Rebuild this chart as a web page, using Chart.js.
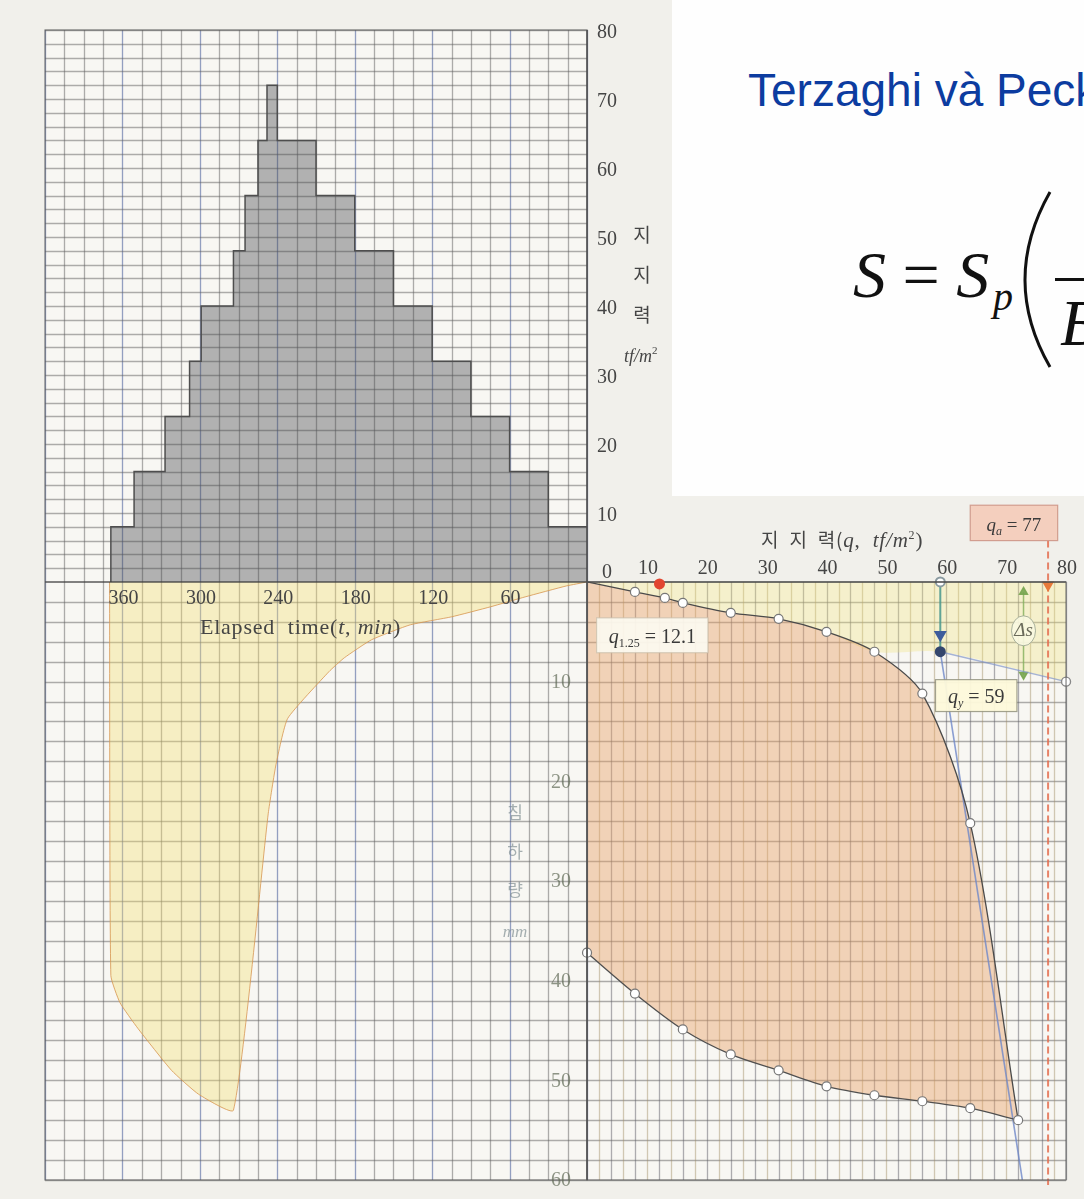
<!DOCTYPE html>
<html>
<head>
<meta charset="utf-8">
<script src="https://cdn.jsdelivr.net/npm/chart.js@4.4.0/dist/chart.umd.min.js"></script>
<style>
  html, body { margin: 0; padding: 0; background: #f1f0eb; overflow: hidden; }
  #wrap { position: relative; width: 1084px; height: 1199px; overflow: hidden; }
  #plate { position: absolute; left: 0; top: 0; }
  #note { position: absolute; left: 672px; top: 0; width: 412px; height: 496px; background: #fefefe; overflow: hidden; }
  #note .title { position: absolute; left: 76px; top: 67px; font: 46px "Liberation Sans", Arial, sans-serif; line-height: 1; color: #0c3ca0; white-space: nowrap; }
  #note .eq { position: absolute; font-family: "Liberation Serif", "Times New Roman", serif; line-height: 1; color: #111; white-space: pre; }
  #note i { font-style: italic; }
</style>
</head>
<body>
<div id="wrap">
  <canvas id="plate" width="1084" height="1199"></canvas>
  <div id="note">
    <div class="title">Terzaghi và Peck</div>
    <div class="eq" style="left:181px;top:242px;font-size:66px"><i>S</i> = <i>S</i></div>
    <div class="eq" style="left:321px;top:277px;font-size:40px"><i>p</i></div>
    <svg style="position:absolute;left:320px;top:185px" width="70" height="190">
      <path d="M58 7 Q8 95 58 182" fill="none" stroke="#111" stroke-width="3"/>
    </svg>
    <div style="position:absolute;left:383px;top:278px;width:40px;height:3px;background:#111"></div>
    <div class="eq" style="left:388px;top:290px;font-size:66px"><i>B</i></div>
  </div>
</div>
<script>
// --- 재하 단계 (elapsed time in min, load in tf/m2 held from that time) ---
const stepTimes = [0, 30, 60, 90, 120, 150, 180, 210, 240, 248, 255, 265, 274, 299, 308, 327, 351, 369];
const stepLoads = [8, 16, 24, 32, 40, 48, 56, 64, 72, 64, 56, 48, 40, 32, 24, 16, 8];

// --- 시간-침하 ---
const elapsedMin = [0, 16, 48, 75, 105, 137, 167, 188, 200, 232, 241, 247, 274, 301, 322, 348, 362, 369, 370];
const elapsedSettle = [0, 0.4, 1.5, 2.5, 3.5, 4.3, 5.8, 7.6, 9.0, 13.7, 18.3, 23.2, 53.0, 51.4, 49.0, 44.8, 42.2, 39.5, 0];

// --- 하중-침하 (loading / unloading) ---
const loadUp = [0, 8, 13, 16, 24, 32, 40, 48, 56, 64, 72];
const settleUp = [0, 1.0, 1.6, 2.1, 3.1, 3.7, 5.0, 7.0, 11.2, 24.2, 54.0];
const loadDown = [72, 64, 56, 48, 40, 32, 24, 16, 8, 0];
const settleDown = [54.0, 52.8, 52.1, 51.5, 50.6, 49.0, 47.4, 44.9, 41.3, 37.2];

// yield construction
const qy = 59, qySettle = 7.0;
const flatTangentEnd = [80, 10];
const steepTangentEnd = [72.7, 60];
const q125 = 12.1;
const qa = 77;
const deltaSLoad = 72.9, deltaS = [1.0, 9.3];

// tick labels
const loadTicks = [80, 70, 60, 50, 40, 30, 20, 10, 0];
const timeTicks = [360, 300, 240, 180, 120, 60];
const qTicks = [10, 20, 30, 40, 50, 60, 70, 80];
const settleTicks = [10, 20, 30, 40, 50, 60];

const SERIF = '"Liberation Serif", "DejaVu Serif", serif';
const KR = '"Noto Sans CJK KR", sans-serif';

const pts = (xs, ys) => xs.map((x, i) => ({ x: x, y: ys[i] }));

const histData = pts(stepTimes.slice(0, stepLoads.length), stepLoads)
  .concat([{ x: stepTimes[stepTimes.length - 1], y: 0 }]);

// upper band: s=0 down to the initial branch and its tangent
const bandData = pts(loadUp.slice(0, 8), settleUp.slice(0, 8))
  .concat([{ x: qy, y: qySettle }, { x: flatTangentEnd[0], y: flatTangentEnd[1] }]);

// loop outline; the turning point is repeated so the corner stays sharp
const loopData = pts(loadUp, settleUp).concat(pts(loadDown, settleDown));

function drawRuns(ctx, runs, x, y, align) {
  let total = 0;
  runs.forEach(r => { ctx.font = r.f; r.w = ctx.measureText(r.t).width; total += r.w; });
  let cx = align === 'center' ? x - total / 2 : x;
  runs.forEach(r => { ctx.font = r.f; ctx.fillText(r.t, cx, y + (r.dy || 0)); cx += r.w; });
}

function hline(ctx, x1, x2, y) { ctx.beginPath(); ctx.moveTo(x1, y); ctx.lineTo(x2, y); ctx.stroke(); }
function vline(ctx, x, y1, y2) { ctx.beginPath(); ctx.moveTo(x, y1); ctx.lineTo(x, y2); ctx.stroke(); }

// graph paper behind the data
const paperGrid = {
  id: 'paperGrid',
  beforeDatasetsDraw(chart) {
    const { ctx, scales: { xt, xq, yq, ys } } = chart;
    const L = xt.getPixelForValue(420), X0 = xt.getPixelForValue(0), R = xq.getPixelForValue(80);
    const T = yq.getPixelForValue(80), Y0 = ys.getPixelForValue(0), B = ys.getPixelForValue(60);
    ctx.save();
    ctx.fillStyle = '#f8f7f3';
    ctx.fillRect(L, T, X0 - L, B - T);
    ctx.fillRect(X0, Y0, R - X0, B - Y0);
    ctx.lineWidth = 1.3;
    for (let t = 0; t <= 420; t += 15) {
      ctx.strokeStyle = t % 60 === 0 ? 'rgba(85,105,160,0.62)' : 'rgba(95,95,95,0.5)';
      vline(ctx, Math.round(xt.getPixelForValue(t)) + 0.5, T, B);
    }
    ctx.strokeStyle = 'rgba(95,95,95,0.5)';
    for (let v = 2; v <= 80; v += 2) hline(ctx, L, X0, Math.round(yq.getPixelForValue(v)) + 0.5);
    for (let s = 2; s <= 60; s += 2) hline(ctx, L, R, Math.round(ys.getPixelForValue(s)) + 0.5);
    for (let q = 2; q <= 80; q += 2) {
      ctx.strokeStyle = q % 4 === 0 ? 'rgba(95,95,105,0.5)' : 'rgba(160,140,100,0.45)';
      vline(ctx, Math.round(xq.getPixelForValue(q)) + 0.5, Y0, B);
    }
    ctx.restore();
  },
  afterDatasetsDraw(chart) {
    const { ctx, scales: { xt, xq, yq, ys } } = chart;
    const L = xt.getPixelForValue(420), X0 = xt.getPixelForValue(0), R = xq.getPixelForValue(80);
    const T = yq.getPixelForValue(80), Y0 = ys.getPixelForValue(0), B = ys.getPixelForValue(60);
    ctx.save();
    // main axes
    ctx.strokeStyle = 'rgba(60,60,60,0.85)';
    ctx.lineWidth = 1.6;
    hline(ctx, L, R, Y0);
    vline(ctx, X0, T, B);
    ctx.strokeStyle = 'rgba(90,90,90,0.7)';
    ctx.lineWidth = 1.3;
    ctx.strokeRect(L, T, X0 - L, B - T);
    ctx.strokeRect(X0, Y0, R - X0, B - Y0);

    ctx.fillStyle = '#454545';
    ctx.textBaseline = 'middle';
    ctx.textAlign = 'center';
    ctx.font = '20px ' + SERIF;
    loadTicks.forEach(v => {
      const y = v === 0 ? Y0 - 9 : yq.getPixelForValue(v) + 3;
      ctx.fillText(String(v), X0 + 20, y);
    });
    timeTicks.forEach(t => ctx.fillText(String(t), xt.getPixelForValue(t) + 1, Y0 + 17));
    qTicks.forEach(q => ctx.fillText(String(q), xq.getPixelForValue(q) + 1, Y0 - 13));

    // 지지력 (top)
    ctx.font = '19px ' + KR;
    ['지', '지', '력'].forEach((c, i) => ctx.fillText(c, X0 + 55, yq.getPixelForValue(50.3 - i * 5.8)));
    ctx.textAlign = 'left';
    drawRuns(ctx, [
      { t: 'tf/m', f: 'italic 18px ' + SERIF },
      { t: '2', f: '11px ' + SERIF, dy: -7 }
    ], X0 + 37, yq.getPixelForValue(32.5), 'left');

    ctx.textBaseline = 'alphabetic';
    ctx.letterSpacing = '0.8px';
    drawRuns(ctx, [
      { t: 'Elapsed  time(', f: '22px ' + SERIF },
      { t: 't', f: 'italic 22px ' + SERIF },
      { t: ', ', f: '22px ' + SERIF },
      { t: 'min', f: 'italic 22px ' + SERIF },
      { t: ')', f: '22px ' + SERIF }
    ], xt.getPixelForValue(222), ys.getPixelForValue(5.2), 'center');

    drawRuns(ctx, [
      { t: '지  지  력(', f: '19px ' + KR },
      { t: 'q', f: 'italic 21px ' + SERIF },
      { t: ',  ', f: '21px ' + SERIF },
      { t: 'tf/m', f: 'italic 21px ' + SERIF },
      { t: '2', f: '12px ' + SERIF, dy: -8 },
      { t: ')', f: '21px ' + SERIF }
    ], xq.getPixelForValue(42.6), ys.getPixelForValue(-3.5), 'center');
    ctx.letterSpacing = '0px';

    // settlement labels
    ctx.textBaseline = 'middle';
    ctx.textAlign = 'center';
    ctx.fillStyle = 'rgba(95,105,85,0.7)';
    ctx.font = '20px ' + SERIF;
    settleTicks.forEach(s => ctx.fillText(String(s), X0 - 26, ys.getPixelForValue(s) + 1));
    ctx.fillStyle = 'rgba(120,135,140,0.65)';
    ctx.font = '17px ' + KR;
    ['침', '하', '량'].forEach((c, i) => ctx.fillText(c, X0 - 72, ys.getPixelForValue(23.1 + i * 3.9)));
    ctx.font = 'italic 17px ' + SERIF;
    ctx.fillText('mm', X0 - 72, ys.getPixelForValue(35.2));

    // label boxes
    const box = (q1, s1, q2, s2, fill, stroke) => {
      const x1 = xq.getPixelForValue(q1), y1 = ys.getPixelForValue(s1);
      const x2 = xq.getPixelForValue(q2), y2 = ys.getPixelForValue(s2);
      ctx.fillStyle = fill;
      ctx.fillRect(x1, y1, x2 - x1, y2 - y1);
      ctx.strokeStyle = stroke;
      ctx.lineWidth = 1.2;
      ctx.strokeRect(x1, y1, x2 - x1, y2 - y1);
      return [x1, y1, x2, y2];
    };
    ctx.textBaseline = 'alphabetic';
    ctx.textAlign = 'left';
    let b = box(1.6, 3.6, 20.2, 7.1, 'rgba(252,250,240,0.92)', 'rgba(200,190,170,0.7)');
    ctx.fillStyle = '#3a3a3a';
    drawRuns(ctx, [
      { t: 'q', f: 'italic 20px ' + SERIF },
      { t: '1.25', f: '12px ' + SERIF, dy: 4 },
      { t: ' = ' + q125, f: '20px ' + SERIF }
    ], (b[0] + b[2]) / 2, b[3] - 10, 'center');

    b = box(58.2, 9.8, 71.8, 13.0, 'rgba(253,249,218,0.95)', 'rgba(140,140,120,0.8)');
    ctx.fillStyle = '#3a3a3a';
    drawRuns(ctx, [
      { t: 'q', f: 'italic 20px ' + SERIF },
      { t: 'y', f: 'italic 12px ' + SERIF, dy: 4 },
      { t: ' = ' + qy, f: '20px ' + SERIF }
    ], (b[0] + b[2]) / 2, b[3] - 9, 'center');

    b = box(64.0, -7.7, 78.6, -4.15, 'rgba(243,204,188,0.95)', 'rgba(205,150,135,0.9)');
    ctx.fillStyle = '#3a3a3a';
    drawRuns(ctx, [
      { t: 'q', f: 'italic 19px ' + SERIF },
      { t: 'a', f: 'italic 12px ' + SERIF, dy: 4 },
      { t: ' = ' + qa, f: '19px ' + SERIF }
    ], (b[0] + b[2]) / 2, b[3] - 10, 'center');

    // Δs label
    const dx = xq.getPixelForValue(deltaSLoad), dy = ys.getPixelForValue(4.9);
    ctx.fillStyle = 'rgba(250,248,225,0.9)';
    ctx.strokeStyle = 'rgba(150,160,140,0.8)';
    ctx.lineWidth = 1;
    ctx.beginPath();
    ctx.ellipse(dx, dy, 12, 15, 0, 0, Math.PI * 2);
    ctx.fill();
    ctx.stroke();
    ctx.fillStyle = '#6a6a5a';
    ctx.textAlign = 'center';
    ctx.textBaseline = 'middle';
    ctx.font = 'italic 19px ' + SERIF;
    ctx.fillText('Δs', dx, dy);

    // q1.25 marker
    ctx.fillStyle = '#e2452f';
    ctx.beginPath();
    ctx.arc(xq.getPixelForValue(q125), Y0 + 2, 5.5, 0, Math.PI * 2);
    ctx.fill();
    ctx.restore();
  }
};

new Chart(document.getElementById('plate'), {
  type: 'line',
  data: {
    datasets: [
      {
        data: histData, xAxisID: 'xt', yAxisID: 'yq', stepped: true, fill: 'origin',
        backgroundColor: 'rgba(70,72,78,0.4)', borderColor: '#4e4e4e', borderWidth: 1.5,
        pointRadius: 0, order: 9
      },
      {
        data: pts(elapsedMin, elapsedSettle), xAxisID: 'xt', yAxisID: 'ys', fill: 'origin', tension: 0.15,
        backgroundColor: 'rgba(245,222,110,0.36)', borderColor: 'rgba(215,150,80,0.8)', borderWidth: 1,
        pointRadius: 0, order: 9
      },
      {
        data: bandData, xAxisID: 'xq', yAxisID: 'ys', fill: 'origin', tension: 0.3,
        backgroundColor: 'rgba(240,228,125,0.33)', borderWidth: 0, pointRadius: 0, order: 9
      },
      {
        data: loopData, xAxisID: 'xq', yAxisID: 'ys', fill: 'shape', tension: 0.3,
        backgroundColor: 'rgba(232,160,100,0.42)', borderWidth: 0, pointRadius: 0, order: 8
      },
      {
        data: pts(loadDown, settleDown), xAxisID: 'xq', yAxisID: 'ys', fill: false, tension: 0.3,
        borderColor: '#505050', borderWidth: 1.3,
        pointRadius: c => c.dataIndex === 0 ? 0 : 4.5, pointBackgroundColor: '#ffffff',
        pointBorderColor: '#777777', pointBorderWidth: 1.2, order: 2
      },
      {
        data: [{ x: qy, y: qySettle }, { x: steepTangentEnd[0], y: steepTangentEnd[1] }],
        xAxisID: 'xq', yAxisID: 'ys', fill: false,
        borderColor: 'rgba(110,135,200,0.8)', borderWidth: 1.6, pointRadius: 0, order: 4
      },
      {
        data: [{ x: qy, y: qySettle }, { x: flatTangentEnd[0], y: flatTangentEnd[1] }],
        xAxisID: 'xq', yAxisID: 'ys', fill: false,
        borderColor: 'rgba(130,150,200,0.7)', borderWidth: 1.4,
        pointRadius: c => c.dataIndex === 1 ? 4.5 : 0, pointBackgroundColor: '#ffffff',
        pointBorderColor: '#888888', order: 4
      },
      {
        data: pts(loadUp, settleUp), xAxisID: 'xq', yAxisID: 'ys', fill: false, tension: 0.3,
        borderColor: '#4a4a4a', borderWidth: 1.3,
        pointRadius: c => c.dataIndex === 0 ? 0 : 4.5, pointBackgroundColor: '#ffffff',
        pointBorderColor: '#777777', pointBorderWidth: 1.2, order: 1
      },
      {
        data: [{ x: qa, y: -4.15 }, { x: qa, y: 0.3 }, { x: qa, y: 60.5 }], xAxisID: 'xq', yAxisID: 'ys', fill: false,
        borderColor: 'rgba(228,110,80,0.85)', borderWidth: 2, borderDash: [7, 4],
        pointRadius: c => c.dataIndex === 1 ? 5 : 0, pointStyle: 'triangle', rotation: 180,
        pointBackgroundColor: '#e87a3a', pointBorderColor: '#e87a3a', order: 3
      },
      {
        data: [{ x: qy, y: 0 }, { x: qy, y: 5.3 }, { x: qy, y: qySettle }], xAxisID: 'xq', yAxisID: 'ys', fill: false,
        borderColor: 'rgba(70,150,140,0.85)', borderWidth: 2,
        pointRadius: [4.5, 5.5, 4.5], pointStyle: ['circle', 'triangle', 'circle'], rotation: [0, 180, 0],
        pointBackgroundColor: ['#ffffff', '#3d5c9c', '#34466e'], pointBorderColor: ['#8a9aa0', '#3d5c9c', '#34466e'],
        order: 0
      },
      {
        data: [{ x: deltaSLoad, y: deltaS[0] }, { x: deltaSLoad, y: deltaS[1] }], xAxisID: 'xq', yAxisID: 'ys', fill: false,
        borderColor: 'rgba(130,175,90,0.8)', borderWidth: 1.5,
        pointRadius: 4.5, pointStyle: 'triangle', rotation: [0, 180],
        pointBackgroundColor: 'rgba(120,165,80,0.9)', pointBorderColor: 'rgba(120,165,80,0.9)', order: 5
      }
    ]
  },
  options: {
    responsive: false,
    devicePixelRatio: 1,
    animation: false,
    layout: { padding: 0, autoPadding: false },
    plugins: { legend: { display: false }, tooltip: { enabled: false } },
    scales: {
      xt: { type: 'linear', display: false, reverse: true, min: -385.1, max: 454.9 },
      xq: { type: 'linear', display: false, min: -98.04, max: 83.0 },
      yq: { type: 'linear', display: false, min: -89.42, max: 84.35 },
      ys: { type: 'linear', display: false, reverse: true, min: -58.39, max: 61.91 }
    }
  },
  plugins: [paperGrid]
});
</script>
</body>
</html>
